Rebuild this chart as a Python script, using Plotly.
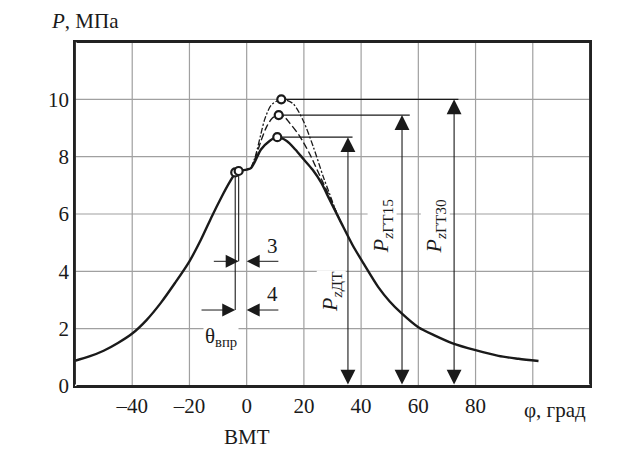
import plotly.graph_objects as go

# ---- data ----
phi_dt = [-60, -55, -50, -45, -40, -35, -30, -25, -20, -16, -12, -9, -6, -3.6, 0, 1.5, 3, 5, 8, 10.7, 14, 17,
          20, 23, 26, 29, 33, 37, 41, 46, 50, 54, 60, 66, 72, 80, 88, 95, 102]
p_dt = [0.88, 1.03, 1.23, 1.5, 1.83, 2.3, 2.9, 3.6, 4.35, 5.1, 5.95, 6.55, 7.1, 7.46, 7.55, 7.6, 7.85, 8.25,
        8.55, 8.68, 8.55, 8.25, 7.9, 7.55, 7.1, 6.5, 5.7, 4.92, 4.25, 3.45, 2.95, 2.55, 2.05, 1.75, 1.49,
        1.25, 1.05, 0.95, 0.87]

phi_gt15 = [1.5, 3, 5, 7, 9, 11.2, 13, 15, 18.5, 22, 25.5, 29, 33]
p_gt15 = [7.6, 7.95, 8.55, 9.05, 9.35, 9.45, 9.4, 9.18, 8.72, 8.1, 7.35, 6.6, 5.7]

phi_gt30 = [1.5, 3, 5, 6.3, 8.6, 12.1, 16.2, 19.7, 23.2, 26.7, 29, 31, 33]
p_gt30 = [7.6, 8.0, 8.8, 9.3, 9.8, 10.0, 9.85, 9.27, 8.37, 7.32, 6.7, 6.15, 5.7]

peak_phi = [10.7, 11.2, 12.1]
peak_p = [8.68, 9.45, 10.0]
ref_end_phi = [37, 57, 74]
arrow_phi = [35.4, 54.3, 72.5]
peak_labels = ["<i>P</i><sub><i>z</i>ДТ</sub>", "<i>P</i><sub><i>z</i>ГТ15</sub>", "<i>P</i><sub><i>z</i>ГТ30</sub>"]
label_phi = [29.7, 47.2, 65.8]
label_p = [3.3, 5.56, 5.56]

inj_phi = [-4.0, -2.8]          # injection start lines (4 and 3)
inj_p = [7.45, 7.5]
inj_low = [2.65, 4.35]          # lower ends of the vertical lines
inj_left_tail = [-16.3, -12.0]
inj_right_tail = [11.6, 11.6]
inj_names = ["4", "3"]
tdc_phi = 0

x_frame = [-60, 120]
y_frame = [0, 12]
x_tickvals = [-40, -20, 0, 20, 40, 60, 80, 100]
x_ticktext = ["–40", "–20", "0", "20", "40", "60", "80", ""]
y_tickvals = [0, 2, 4, 6, 8, 10, 12]
y_ticktext = ["0", "2", "4", "6", "8", "10", ""]

FONT = "Liberation Serif, DejaVu Serif, serif"
INK = "#1a1a1a"
GRID = "#a0a0a0"

fig = go.Figure()

# grid lines at the tick positions, one short trace per line
for v in x_tickvals:
    fig.add_trace(go.Scatter(x=[v, v], y=y_frame, mode="lines", line=dict(color=GRID, width=1.2)))
for v in y_tickvals[1:-1]:
    fig.add_trace(go.Scatter(x=[x_frame[0] + 0.2, x_frame[1] - 0.2], y=[v, v], mode="lines",
                             line=dict(color=GRID, width=1.2)))

fig.add_trace(go.Scatter(x=phi_gt30, y=p_gt30, mode="lines",
                         line=dict(color=INK, width=1.3, dash="6px,2px,2px,2px", shape="spline", smoothing=0.8)))
fig.add_trace(go.Scatter(x=phi_gt15, y=p_gt15, mode="lines",
                         line=dict(color=INK, width=1.4, dash="7px,3px", shape="spline", smoothing=0.8)))
fig.add_trace(go.Scatter(x=phi_dt, y=p_dt, mode="lines",
                         line=dict(color=INK, width=2.4, shape="spline", smoothing=0.8)))

for px, pp, pe in zip(peak_phi, peak_p, ref_end_phi):
    fig.add_trace(go.Scatter(x=[px, pe], y=[pp, pp], mode="lines", line=dict(color=INK, width=1.3)))

for ip, iv, lo in zip(inj_phi, inj_p, inj_low):
    fig.add_trace(go.Scatter(x=[ip, ip], y=[iv, lo], mode="lines", line=dict(color=INK, width=1.1)))

fig.add_trace(go.Scatter(x=peak_phi + inj_phi, y=peak_p + inj_p, mode="markers",
                         marker=dict(symbol="circle", size=8, color="white", line=dict(color=INK, width=2.2))))

annotations = []
for t, lx, ly in zip(peak_labels, label_phi, label_p):
    annotations.append(dict(x=lx, y=ly, xref="x", yref="y", text=t, showarrow=False, textangle=-90,
                            font=dict(family=FONT, size=22, color=INK), bgcolor="white", borderpad=0))
annotations.append(dict(x=-8.9, y=1.72, xref="x", yref="y", text="θ<sub>впр</sub>", showarrow=False,
                        font=dict(family=FONT, size=21, color=INK), bgcolor="white", borderpad=1))
for name, lo in zip(inj_names, inj_low):
    annotations.append(dict(x=8.9, y=lo + 0.55, xref="x", yref="y", text=name, showarrow=False,
                            font=dict(family=FONT, size=21, color=INK)))

# plot frame drawn as head-less annotation lines along the four edges
frame_sides = [
    (x_frame[0], y_frame[0], x_frame[1], y_frame[0]),
    (x_frame[0], y_frame[1], x_frame[1], y_frame[1]),
    (x_frame[0], y_frame[0], x_frame[0], y_frame[1]),
    (x_frame[1], y_frame[0], x_frame[1], y_frame[1]),
]
for x0, y0, x1, y1 in frame_sides:
    annotations.append(dict(x=x1, y=y1, ax=x0, ay=y0, xref="x", yref="y", axref="x", ayref="y", text="",
                            showarrow=True, arrowhead=0, arrowwidth=1.8, arrowcolor="#222",
                            standoff=0, startstandoff=0))

for ax_, pp in zip(arrow_phi, peak_p):
    annotations.append(dict(x=ax_, y=pp, ax=ax_, ay=0, xref="x", yref="y", axref="x", ayref="y", text="",
                            showarrow=True, arrowhead=2, arrowside="end+start", arrowsize=2.7,
                            arrowwidth=1.1, arrowcolor=INK, standoff=0, startstandoff=0))

for ip, lo, lt, rt in zip(inj_phi, inj_low, inj_left_tail, inj_right_tail):
    annotations.append(dict(x=ip, y=lo, ax=lt, ay=lo, xref="x", yref="y", axref="x", ayref="y", text="",
                            showarrow=True, arrowhead=2, arrowsize=2.6, arrowwidth=1.0, arrowcolor=INK))
    annotations.append(dict(x=tdc_phi, y=lo, ax=rt, ay=lo, xref="x", yref="y", axref="x", ayref="y", text="",
                            showarrow=True, arrowhead=2, arrowsize=2.6, arrowwidth=1.0, arrowcolor=INK))

annotations.append(dict(x=0.02, y=1.062, xref="paper", yref="paper", text="<i>P</i>, МПа", showarrow=False,
                        font=dict(family=FONT, size=21, color=INK), xanchor="center", yanchor="middle"))
annotations.append(dict(x=0.932, y=-0.07, xref="paper", yref="paper", text="φ, град", showarrow=False,
                        font=dict(family=FONT, size=21, color=INK), xanchor="center", yanchor="middle"))
annotations.append(dict(x=0, y=-0.148, xref="x", yref="paper", text="ВМТ", showarrow=False,
                        font=dict(family=FONT, size=21, color=INK), xanchor="center", yanchor="middle"))

# the page adds an 8px body margin, so the figure is 8px smaller and shifted
fig.update_layout(
    width=613, height=442,
    margin=dict(l=67, r=31, t=34, b=64, autoexpand=False),
    paper_bgcolor="white", plot_bgcolor="white",
    showlegend=False,
    font=dict(family=FONT, size=21, color=INK),
    annotations=annotations,
)
fig.update_xaxes(range=x_frame, tickmode="array", tickvals=x_tickvals, ticktext=x_ticktext,
                 showgrid=False, zeroline=False, showline=True, linecolor="#222", linewidth=1.8, mirror=True,
                 ticks="", tickfont=dict(family=FONT, size=21, color=INK))
fig.update_yaxes(range=y_frame, tickmode="array", tickvals=y_tickvals, ticktext=y_ticktext,
                 showgrid=False, zeroline=False, showline=True, linecolor="#222", linewidth=1.8, mirror=True,
                 ticks="", tickfont=dict(family=FONT, size=21, color=INK))

fig.write_html("out.html")
